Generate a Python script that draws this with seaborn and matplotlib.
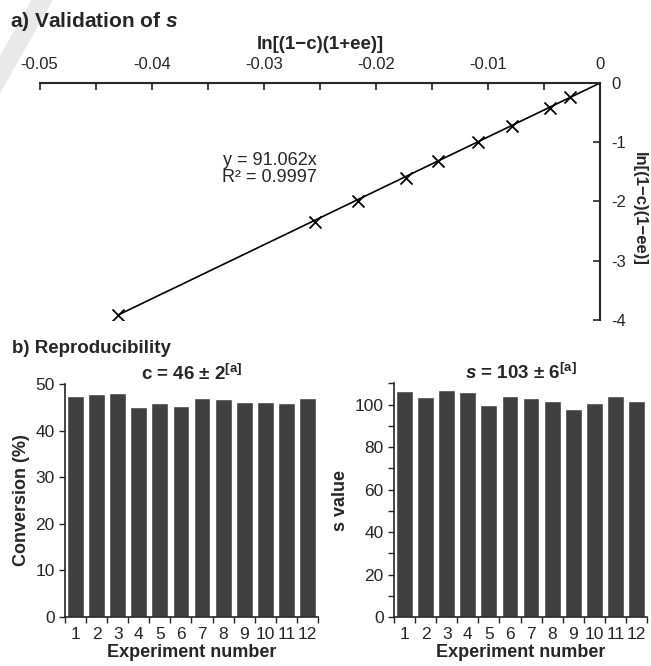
import numpy as np
import pandas as pd
import seaborn as sns
import matplotlib.pyplot as plt
from matplotlib.patches import Polygon
from matplotlib.ticker import MultipleLocator, FuncFormatter

# panel a) data
ln_c_ee_plus = [-0.0430, -0.0254, -0.0216, -0.0173, -0.0145, -0.0109, -0.0079, -0.0045, -0.0027]
ln_c_ee_minus = [-3.91, -2.34, -1.99, -1.60, -1.32, -1.00, -0.72, -0.42, -0.24]
slope = 91.062
r_squared = 0.9997

# panel b) data
experiments = [str(i) for i in range(1, 13)]
conversion = [47.5, 47.8, 48.1, 45.0, 45.9, 45.2, 47.1, 46.8, 46.2, 46.1, 46.0, 47.1]
s_values = [106.6, 103.8, 106.7, 106.0, 100.0, 104.1, 103.0, 101.7, 97.8, 100.9, 104.1, 101.7]

sns.set_style("ticks")
plt.rcParams["font.family"] = ["Liberation Sans", "DejaVu Sans"]
plt.rcParams["axes.unicode_minus"] = False
plt.rcParams["mathtext.fontset"] = "custom"
plt.rcParams["mathtext.rm"] = "Liberation Sans"
plt.rcParams["mathtext.it"] = "Liberation Sans:italic:bold"
plt.rcParams["mathtext.bf"] = "Liberation Sans:bold"


def clean_fmt(v, pos):
    v = round(v, 6)
    return f"{v:g}" if v != 0 else "0"


fig = plt.figure(figsize=(6.51, 6.66), dpi=100)

# faint grey band in the corner
band = Polygon([[32 / 651, 1], [52 / 651, 1], [0, 1 - 92 / 666], [0, 1 - 57 / 666]],
               closed=True, transform=fig.transFigure, color="#e9e9e9", zorder=0)
fig.patches.append(band)

# ---- a) Validation of s
ax = fig.add_axes([0.0608, 0.5195, 0.861, 0.3559])
df_a = pd.DataFrame({"x": ln_c_ee_plus, "y": ln_c_ee_minus})
fit_x = np.array([min(ln_c_ee_plus), 0.0])
sns.lineplot(x=fit_x, y=slope * fit_x, color="black", lw=1.2, ax=ax)
sns.scatterplot(data=df_a, x="x", y="y", marker="x", s=75, color="black",
                linewidth=1.3, ax=ax, zorder=3)
ax.set_xlim(-0.05, 0)
ax.set_ylim(-4, 0)
ax.xaxis.tick_top()
ax.xaxis.set_label_position("top")
ax.yaxis.tick_right()
ax.yaxis.set_label_position("right")
for side in ["left", "bottom"]:
    ax.spines[side].set_visible(False)
for side in ["top", "right"]:
    ax.spines[side].set_linewidth(1.5)
ax.xaxis.set_major_locator(MultipleLocator(0.01))
ax.xaxis.set_minor_locator(MultipleLocator(0.005))
ax.yaxis.set_major_locator(MultipleLocator(1))
ax.xaxis.set_major_formatter(FuncFormatter(clean_fmt))
ax.yaxis.set_major_formatter(FuncFormatter(clean_fmt))
ax.tick_params(axis="both", which="both", direction="in", length=5, width=1.2,
               labelsize=12, pad=8)
ax.set_xlabel("ln[(1−c)(1+ee)]", fontsize=13.5, fontweight="bold", labelpad=6)
ax.set_ylabel("ln[(1−c)(1−ee)]", fontsize=12, fontweight="bold", rotation=270,
              ha="center", va="center")
ax.yaxis.set_label_coords(1.07, 0.47)
ax.text(-0.0295, -1.45, f"y = {slope}x\nR² = {r_squared}", ha="center",
        va="center", fontsize=13, linespacing=1.05)
fig.text(0.015, 0.967, "a) Validation of $\\mathit{s}$", fontsize=15,
         fontweight="bold", va="center")

# ---- b) Reproducibility
fig.text(0.018, 0.477, "b) Reproducibility", fontsize=13.5, fontweight="bold",
         va="center")
panels = [
    ([0.0998, 0.0736, 0.3887, 0.3498], conversion, 50, 10, None,
     "Conversion (%)", "c = 46 ± 2$^{\\mathbf{[a]}}$"),
    ([0.6052, 0.0736, 0.3887, 0.3508], s_values, 110, 20, 10,
     "s value", "$\\mathit{s}$ = 103 ± 6$^{\\mathbf{[a]}}$"),
]
for rect, values, ymax, major, minor, ylabel, title in panels:
    axb = fig.add_axes(rect)
    df_b = pd.DataFrame({"exp": experiments, "val": values})
    sns.barplot(data=df_b, x="exp", y="val", color="#404040", saturation=1,
                width=0.8, ax=axb)
    axb.set_xlim(-0.5, 11.5)
    axb.set_ylim(0, ymax)
    sns.despine(ax=axb)
    axb.spines["left"].set_linewidth(1.2)
    axb.spines["bottom"].set_linewidth(1.2)
    axb.yaxis.set_major_locator(MultipleLocator(major))
    if minor:
        axb.yaxis.set_minor_locator(MultipleLocator(minor))
    axb.set_xticks(np.arange(-0.5, 12, 1), minor=True)
    axb.tick_params(axis="x", which="major", length=0, labelsize=12.5, pad=7)
    axb.tick_params(axis="x", which="minor", direction="out", length=4, width=1)
    axb.tick_params(axis="y", which="both", direction="out", length=4, width=1,
                    labelsize=12.5)
    axb.set_xlabel("Experiment number", fontsize=13, fontweight="bold", labelpad=2)
    axb.set_ylabel(ylabel, fontsize=13, fontweight="bold", labelpad=4)
    axb.set_title(title, fontsize=13.5, fontweight="bold", pad=1)

fig.savefig("out.png", dpi=100)
